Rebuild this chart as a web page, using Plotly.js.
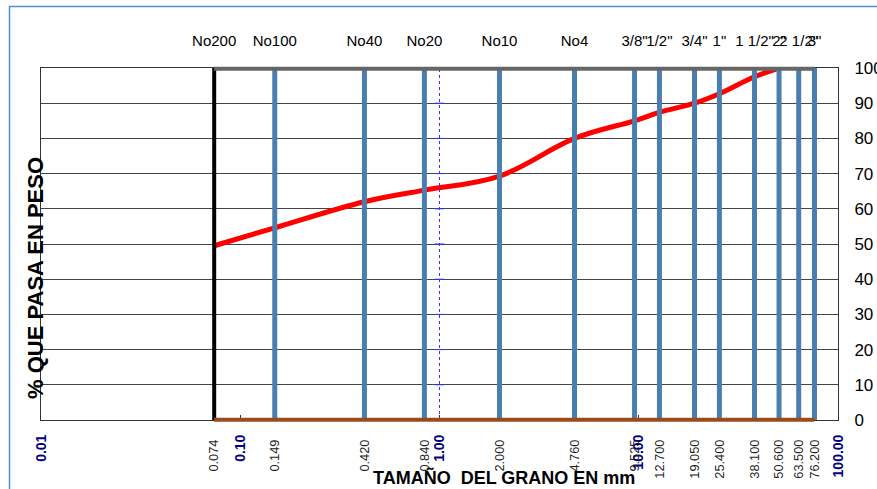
<!DOCTYPE html>
<html>
<head>
<meta charset="utf-8">
<script src="https://cdn.plot.ly/plotly-3.0.1.min.js"></script>
<style>html,body{margin:0;padding:0;background:#fff;}#chart{width:877px;height:489px;}</style>
</head>
<body>
<div id="chart"></div>
<script>
const sieveNames = ['No200','No100','No40','No20','No10','No4','3/8"','1/2"','3/4"','1"','1 1/2"','2"','2 1/2"','3"'];
const sieveSizes = [0.074,0.149,0.420,0.840,2.000,4.760,9.525,12.700,19.050,25.400,38.100,50.600,63.500,76.200];
const sieveLabels = ['0.074','0.149','0.420','0.840','2.000','4.760','9.525','12.700','19.050','25.400','38.100','50.600','63.500','76.200'];
const curveSizes = [0.074,0.149,0.420,0.840,2.000,4.760,9.525,12.700,19.050,25.400,38.100,50.600];
const curvePassing = [49.5,54.6,62.0,65.3,69.3,80.0,85.0,87.4,90.0,92.7,97.5,100];
const majorVals = [0.01,0.1,1,10,100];
const majorText = ['0.01','0.10','1.00','10.00','100.00'];
const yTicks = [0,10,20,30,40,50,60,70,80,90,100];

const W = 877, H = 489;
const L = 41, R = 838, T = 68, B = 420;
const px2x = p => (p - L) / (R - L);
const px2y = p => (B - p) / (B - T);

const traces = [];
// red gradation curve
traces.push({x: curveSizes, y: curvePassing, mode: 'lines', line: {color: '#ff0000', width: 5, shape: 'spline', smoothing: 1.1}, hoverinfo: 'skip', showlegend: false});
// dotted reference line at 1.00
traces.push({x: [1, 1], y: [0, 100], mode: 'lines', line: {color: '#3333ff', width: 1, dash: 'dot'}, showlegend: false});
traces.push({x: yTicks.map(() => 1), y: yTicks, mode: 'markers', marker: {symbol: 'line-ew', size: 7, line: {color: '#3333ff', width: 1}}, showlegend: false});
// sieve vertical lines
sieveSizes.forEach((s, i) => {
  traces.push({x: [s, s], y: [0, 100], mode: 'lines',
    line: {color: i === 0 ? '#000000' : '#4a7eae', width: i === 0 ? 4 : 5},
    showlegend: false, hoverinfo: 'skip'});
});
// dummy traces to activate the overlay axes
traces.push({x: sieveSizes, y: sieveSizes.map(() => null), xaxis: 'x2', mode: 'lines', showlegend: false});
traces.push({x: sieveSizes, y: sieveSizes.map(() => null), xaxis: 'x3', mode: 'lines', showlegend: false});

const first = sieveSizes[0], last = sieveSizes[sieveSizes.length - 1];

const layout = {
  width: W, height: H,
  margin: {l: L, r: W - R, t: T, b: H - B, pad: 0},
  paper_bgcolor: '#ffffff', plot_bgcolor: '#ffffff',
  font: {family: 'Liberation Sans, Arial, sans-serif', color: '#000'},
  showlegend: false,
  xaxis: {
    type: 'log', range: [-2, 2], tickmode: 'array', tickvals: majorVals, ticktext: majorText,
    tickangle: -90, tickfont: {size: 14, color: '#000080', weight: 'bold'},
    ticks: 'inside', ticklen: 5, tickcolor: '#333',
    showgrid: false, zeroline: false, showline: true, linecolor: '#333', linewidth: 1, mirror: true,
    ticklabelstandoff: 8
  },
  xaxis2: {
    type: 'log', range: [-2, 2], overlaying: 'x', side: 'top', anchor: 'y',
    tickmode: 'array', tickvals: sieveSizes, ticktext: sieveNames, tickangle: 0,
    tickfont: {size: 15, color: '#000'}, ticks: '', showgrid: false, showline: false, zeroline: false,
    ticklabelstandoff: 18
  },
  xaxis3: {
    type: 'log', range: [-2, 2], overlaying: 'x', side: 'bottom', anchor: 'y',
    tickmode: 'array', tickvals: sieveSizes, ticktext: sieveLabels, tickangle: -90,
    tickfont: {size: 12.8, color: '#222'}, ticks: '', showgrid: false, showline: false, zeroline: false,
    ticklabelstandoff: 16
  },
  yaxis: {
    range: [0, 100], side: 'right', tickmode: 'array', tickvals: yTicks,
    tickfont: {size: 17, color: '#000'}, ticks: 'outside', ticklen: 12, tickcolor: 'rgba(0,0,0,0)',
    showgrid: true, gridcolor: '#444', gridwidth: 1, zeroline: false,
    showline: true, linecolor: '#333', linewidth: 1, mirror: true
  },
  annotations: [
    {text: 'TAMAÑO  DEL GRANO EN mm', xref: 'paper', yref: 'paper', x: px2x(504), y: px2y(477),
     showarrow: false, font: {size: 18, weight: 'bold', color: '#000'}, xanchor: 'center', yanchor: 'middle'},
    {text: '% QUE PASA EN PESO', xref: 'paper', yref: 'paper', x: px2x(35), y: px2y(278),
     showarrow: false, textangle: -90, font: {size: 22, weight: 'bold', color: '#000'}, xanchor: 'center', yanchor: 'middle'}
  ],
  shapes: [
    {type: 'rect', xref: 'paper', yref: 'paper', x0: px2x(9.5), x1: px2x(890), y0: px2y(500), y1: px2y(6.5),
     line: {color: '#4a93d8', width: 1.5}, fillcolor: 'rgba(0,0,0,0)', layer: 'below'},
    {type: 'line', xref: 'x', yref: 'paper', x0: first, x1: last, y0: px2y(68.8), y1: px2y(68.8),
     line: {color: '#666666', width: 4}, layer: 'above'},
    {type: 'line', xref: 'x', yref: 'paper', x0: first, x1: last, y0: px2y(419.7), y1: px2y(419.7),
     line: {color: '#9a4b1c', width: 4}, layer: 'above'}
  ]
};

Plotly.newPlot('chart', traces, layout, {staticPlot: true, displayModeBar: false});
</script>
</body>
</html>
